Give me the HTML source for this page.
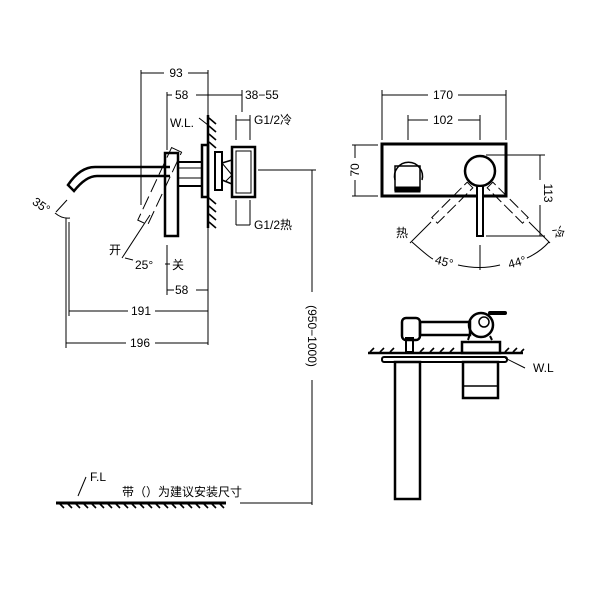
<!DOCTYPE html><html><head><style>body{margin:0;background:#fff}svg{display:block}text{font-family:"Liberation Sans","Noto Sans CJK SC",sans-serif;font-size:12px;fill:#000}</style></head><body>
<svg width="600" height="600" viewBox="0 0 600 600" xmlns="http://www.w3.org/2000/svg">
<g stroke="#000" fill="none" stroke-width="1">
<line x1="141" y1="70" x2="141" y2="205"/><line x1="208" y1="70" x2="208" y2="345"/>
<line x1="141" y1="73" x2="164" y2="73"/><line x1="188" y1="73" x2="208" y2="73"/>
<line x1="167" y1="92" x2="167" y2="150"/>
<line x1="167" y1="95" x2="172" y2="95"/><line x1="196" y1="95" x2="242" y2="95"/>
<line x1="242" y1="90" x2="242" y2="112"/>
<line x1="236" y1="115" x2="236" y2="140"/><line x1="250" y1="115" x2="250" y2="140"/><line x1="236" y1="120" x2="250" y2="120"/>
<line x1="236" y1="200" x2="236" y2="225"/><line x1="250" y1="200" x2="250" y2="225"/><line x1="236" y1="225" x2="250" y2="225"/>
<line x1="199" y1="118" x2="208" y2="125"/>
<line x1="167" y1="245" x2="167" y2="295"/>
<line x1="167" y1="290" x2="174" y2="290"/><line x1="196" y1="290" x2="208" y2="290"/>
<line x1="69" y1="222" x2="69" y2="316"/><line x1="69" y1="311" x2="128" y2="311"/><line x1="155" y1="311" x2="208" y2="311"/>
<line x1="66" y1="218" x2="66" y2="348"/><line x1="66" y1="343" x2="126" y2="343"/><line x1="155" y1="343" x2="208" y2="343"/>
<path d="M56,212 L67,200"/>
<path d="M55,213 Q62,219 70,218"/>
<line x1="150" y1="215" x2="122" y2="258"/><line x1="125" y1="258" x2="133" y2="260"/><line x1="165" y1="264" x2="170" y2="264"/>
<line x1="208" y1="115" x2="208" y2="228" stroke-width="2.5"/>
<path d="M170,167 L95,167 Q80,167 68,185 L74,191 Q86,176 97,176 L170,176" stroke-width="2.5"/>
<rect x="165" y="153" width="13" height="83" stroke-width="2.5"/>
<line x1="178" y1="162" x2="201" y2="162" stroke-width="2"/><line x1="178" y1="186" x2="201" y2="186" stroke-width="2"/>
<line x1="178" y1="168" x2="201" y2="168"/><line x1="178" y1="178" x2="201" y2="178"/>
<g transform="rotate(25 155 195)"><rect x="150" y="145" width="11" height="80" stroke-dasharray="14 5"/></g>
<rect x="202" y="145" width="6" height="52" stroke-width="2.5"/>
<rect x="215" y="152" width="7" height="38" stroke-width="2"/>
<path d="M222,163 L232,160 M222,180 L232,184" stroke-width="1.5"/>
<path d="M222,163 L232,175 L226,181" stroke-width="1"/>
<rect x="232" y="147" width="23" height="50" stroke-width="2.5"/>
<rect x="236" y="151" width="15" height="42" stroke-width="1"/>
<line x1="258" y1="170" x2="316" y2="170"/>
<line x1="312" y1="170" x2="312" y2="292"/><line x1="312" y1="380" x2="312" y2="505"/>
<line x1="240" y1="503" x2="312" y2="503"/>
<line x1="56" y1="503" x2="226" y2="503" stroke-width="3"/>
<line x1="86" y1="477" x2="78" y2="496"/>
<rect x="382" y="144" width="124" height="52" stroke-width="3"/>
<circle cx="480" cy="171" r="15" stroke-width="2.5"/>
<rect x="477" y="186" width="6" height="50" stroke-width="2" fill="#fff"/>
<path d="M395,180 A14,14 0 1 1 422,180" stroke-width="1.5"/>
<rect x="395" y="166" width="25" height="24" stroke-width="1.5"/>
<rect x="395" y="187" width="25" height="5" fill="#000"/>
<line x1="382" y1="90" x2="382" y2="140"/><line x1="506" y1="90" x2="506" y2="140"/>
<line x1="382" y1="95" x2="428" y2="95"/><line x1="458" y1="95" x2="506" y2="95"/>
<line x1="408" y1="115" x2="408" y2="140"/><line x1="480" y1="115" x2="480" y2="140"/>
<line x1="408" y1="120" x2="428" y2="120"/><line x1="458" y1="120" x2="480" y2="120"/>
<line x1="352" y1="145" x2="378" y2="145"/><line x1="352" y1="196" x2="378" y2="196"/><line x1="355" y1="145" x2="355" y2="158"/><line x1="355" y1="180" x2="355" y2="196"/>
<line x1="486" y1="155" x2="545" y2="155"/><line x1="486" y1="236" x2="545" y2="236"/>
<line x1="540" y1="155" x2="540" y2="180"/><line x1="540" y1="205" x2="540" y2="236"/>
<g transform="rotate(45 470 185)"><rect x="466" y="185" width="8" height="50" stroke-dasharray="12 4"/></g>
<g transform="rotate(-45 490 185)"><rect x="486" y="185" width="8" height="50" stroke-dasharray="12 4"/></g>
<line x1="431" y1="222" x2="410" y2="243"/><line x1="529" y1="222" x2="550" y2="243"/>
<path d="M412,242 Q430,258 433,259 M458,265 Q480,270 500,265 M527,258 Q540,252 549,242"/>
<line x1="480" y1="245" x2="480" y2="270"/>
<line x1="368" y1="353" x2="523" y2="353" stroke-width="2.5"/>
<rect x="382" y="357" width="125" height="5" stroke-width="2" rx="2"/>
<rect x="395" y="362" width="25" height="137" stroke-width="2.5"/>
<rect x="463" y="362" width="35" height="36" stroke-width="2.5"/>
<line x1="463" y1="386" x2="498" y2="386" stroke-width="1.5"/>
<rect x="462" y="342" width="38" height="11" stroke-width="2.5"/>
<rect x="402" y="318" width="18" height="22" rx="4" stroke-width="2.5"/>
<rect x="420" y="322" width="50" height="13" stroke-width="2.5"/>
<circle cx="481" cy="325" r="12" stroke-width="2.5"/><circle cx="484" cy="322" r="5" stroke-width="1.5"/>
<path d="M490,313 L505,313" stroke-width="4" stroke-linecap="round"/>
<path d="M468,340 L470,334 M492,340 L490,336" stroke-width="2"/>
<rect x="406" y="338" width="7" height="14" stroke-width="2"/>
<line x1="505" y1="358" x2="525" y2="368"/>
</g>
<g stroke="#000" stroke-width="1.6">
<path d="M209,118 L216,124 M209,126 L216,132 M209,134 L216,140 M209,142 L216,148 M209,198 L216,204 M209,206 L216,212 M209,214 L216,220 M209,222 L216,228"/>
<path d="M60,504 l4,4 M68,504 l4,4 M76,504 l4,4 M84,504 l4,4 M92,504 l4,4 M100,504 l4,4 M108,504 l4,4 M116,504 l4,4 M124,504 l4,4 M132,504 l4,4 M140,504 l4,4 M148,504 l4,4 M156,504 l4,4 M164,504 l4,4 M172,504 l4,4 M180,504 l4,4 M188,504 l4,4 M196,504 l4,4 M204,504 l4,4 M212,504 l4,4 M220,504 l4,4"/>
<path d="M370,352 l4,-4 M380,352 l4,-4 M390,352 l4,-4 M420,352 l4,-4 M430,352 l4,-4 M440,352 l4,-4 M450,352 l4,-4 M505,352 l4,-4 M513,352 l4,-4 M521,352 l3,-3"/>
</g>
<text x="176" y="77" text-anchor="middle" font-size="11">93</text>
<text x="175" y="99" font-size="11">58</text>
<text x="245" y="99" font-size="11">38−55</text>
<text x="170" y="127" font-size="11">W.L.</text>
<text x="254" y="124" font-size="11">G1/2冷</text>
<text x="254" y="229" font-size="11">G1/2热</text>
<text x="32" y="210" font-size="11" transform="rotate(35 42 206)">35°</text>
<text x="109" y="254" font-size="11">开</text>
<text x="135" y="269" font-size="11">25°</text>
<text x="172" y="269" font-size="11">关</text>
<text x="175" y="294" font-size="11">58</text>
<text x="141" y="315" text-anchor="middle" font-size="11">191</text>
<text x="140" y="347" text-anchor="middle" font-size="11">196</text>
<text x="0" y="0" font-size="11" text-anchor="middle" transform="translate(308,336) rotate(90)">(950−1000)</text>
<text x="90" y="481" font-size="11">F.L</text>
<text x="122" y="496" font-size="10">带（）为建议安装尺寸</text>
<text x="443" y="99" text-anchor="middle" font-size="11">170</text>
<text x="443" y="124" text-anchor="middle" font-size="11">102</text>
<text x="0" y="0" font-size="11" text-anchor="middle" transform="translate(359,170) rotate(-90)">70</text>
<text x="0" y="0" font-size="11" text-anchor="middle" transform="translate(544,193) rotate(90)">113</text>
<text x="396" y="237" font-size="10">热</text>
<text x="553" y="236" font-size="10" transform="rotate(60 558 232)">冷</text>
<text x="435" y="266" font-size="11" transform="rotate(15 445 262)">45°</text>
<text x="508" y="266" font-size="11" transform="rotate(-15 518 262)">44°</text>
<text x="533" y="372" font-size="11">W.L</text>
</svg></body></html>
